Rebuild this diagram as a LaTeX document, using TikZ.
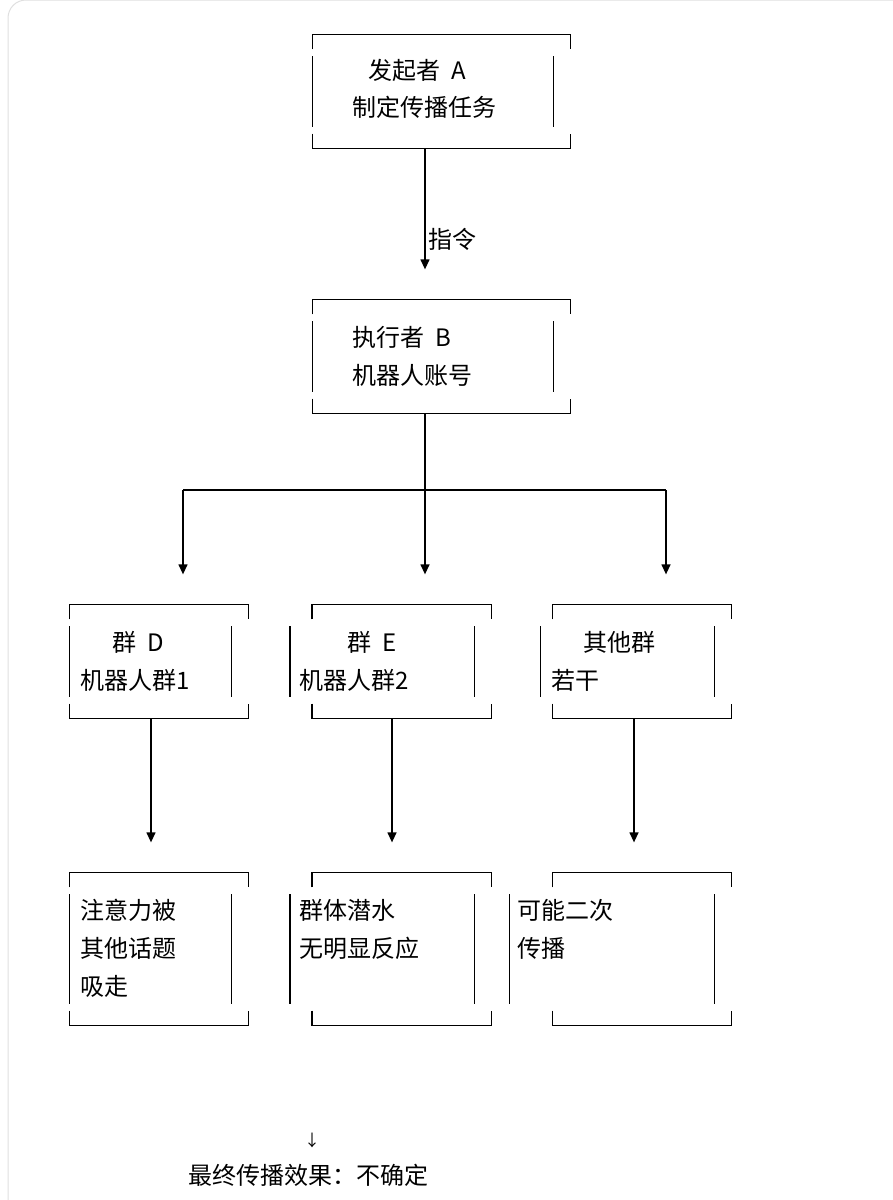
\documentclass[tikz,border=0pt]{standalone}
\usepackage{fontspec}
\setmainfont{Noto Sans CJK SC}
\usetikzlibrary{arrows.meta,calc}
\begin{document}
\begin{tikzpicture}[x=1pt, y=-1pt, >={Triangle[width=9pt,length=10pt]}, line width=1.3pt,
  font=\fontsize{24}{28}\selectfont]
\tikzset{
  box/.style={rectangle, draw=none, inner sep=0pt},
  txt/.style={anchor=west, inner sep=0pt},
  flow/.style={->, shorten >=30pt}
}
% #1 node, #2 shift of the left bar
\newcommand{\brokenbox}[2]{%
  \draw (#1.north west) ++(0,15) -- (#1.north west) -- (#1.north east) -- ++(0,15);
  \draw (#1.south west) ++(0,-15) -- (#1.south west) -- (#1.south east) -- ++(0,-15);
  \draw (#1.north west) ++(#2,22) -- ($(#1.south west)+(#2,-22)$);
  \draw (#1.north east) ++(-17,22) -- ($(#1.south east)+(-17,-22)$);
}
\useasboundingbox (0,0) rectangle (893,1200);
\draw[gray!25, line width=1pt, rounded corners=18pt] (8,1210) -- (8,0) -- (900,0);
% boxes
\node[box, minimum width=257pt, minimum height=113pt] (a) at (441.5,91.5) {};
\node[box, minimum width=257pt, minimum height=113pt] (b) at (441.5,356.5) {};
\node[box, minimum width=178pt, minimum height=113pt] (d) at (159,661.5) {};
\node[box, minimum width=178pt, minimum height=113pt] (e) at (401.5,661.5) {};
\node[box, minimum width=178pt, minimum height=113pt] (o) at (642,661.5) {};
\node[box, minimum width=178pt, minimum height=152pt] (d2) at (159,949) {};
\node[box, minimum width=178pt, minimum height=152pt] (e2) at (401.5,949) {};
\node[box, minimum width=178pt, minimum height=152pt] (o2) at (642,949) {};
\foreach \n/\s in {a/0,b/0,d/0,e/-22,o/-12,d2/0,e2/-22,o2/-43} {\brokenbox{\n}{\s}}
% texts
\node[txt] (at1) at (368,70) {发起者\ \ A};
\node[txt] (at2) at (352,107) {制定传播任务};
\node[txt] (bt1) at (352,337) {执行者\ \ B};
\node[txt] (bt2) at (352,375) {机器人账号};
\node[txt] (dt1) at (112,642) {群\ \ D};
\node[txt] (dt2) at (80,680) {机器人群1};
\node[txt] (et1) at (347,642) {群\ \ E};
\node[txt] (et2) at (299,680) {机器人群2};
\node[txt] (ot1) at (583,642) {其他群};
\node[txt] (ot2) at (551,680) {若干};
\node[txt, align=left] (d2t) at (80,948) {注意力被\\[10pt]其他话题\\[10pt]吸走};
\node[txt, align=left] (e2t) at (299,929) {群体潜水\\[10pt]无明显反应};
\node[txt, align=left] (o2t) at (517,929) {可能二次\\[10pt]传播};
% connectors
\draw[flow] (a.south -| 425,0) -- node[right, pos=0.6] {指令} (b.north -| 425,0);
\coordinate (hub) at (425,490);
\draw (b.south -| hub) -- (hub);
\draw (183,490) -- (666,490);
\draw[flow] (hub) -- (e.north -| hub);
\draw[flow] (183,490) -- (d.north -| 183,0);
\draw[flow] (666,490) -- (o.north -| 666,0);
\draw[flow] (d.south -| 151,0) -- (d2.north -| 151,0);
\draw[flow] (e.south -| 392,0) -- (e2.north -| 392,0);
\draw[flow] (o.south -| 634,0) -- (o2.north -| 634,0);
\node (arr) at (312,1140) {\fontsize{16}{18}\selectfont ↓};
\node (res) at (308,1175) {最终传播效果：不确定};
\end{tikzpicture}
\end{document}
